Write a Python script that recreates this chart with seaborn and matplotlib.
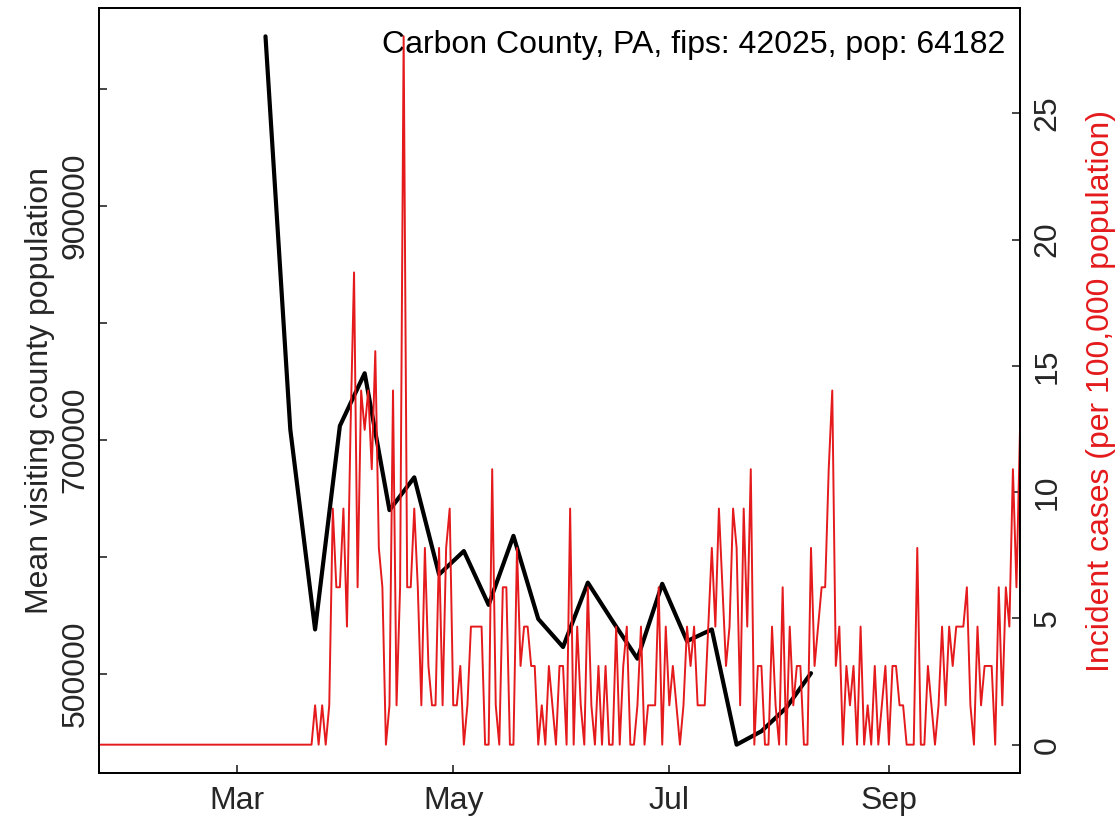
import numpy as np
import pandas as pd
import seaborn as sns
import matplotlib.pyplot as plt
import matplotlib.dates as mdates

county_label = "Carbon County, PA, fips: 42025, pop: 64182"
county_pop = 64182

# weekly mean visiting county population (black line)
visit_dates = pd.date_range("2020-03-09", periods=23, freq="7D")
visit_pop = [1045000, 709000, 538000, 712000, 757000, 640000, 668000, 585000,
             605000, 559000, 618000, 547000, 523000, 578000, 545000, 513000,
             577000, 528000, 538000, 439500, 451000, 471000, 500600]

# daily new case counts, 2020-01-22 .. 2020-10-08 (red line)
case_dates = pd.date_range("2020-01-22", "2020-10-08", freq="D")
case_counts = [0] * 61 + [
    1, 0, 1, 0, 1, 6, 4, 4, 6, 3, 8, 12, 4, 9, 8, 9, 7, 10, 5, 4,
    0, 1, 9, 1, 4, 18, 4, 4, 6, 4, 1, 5, 2, 1, 1, 5, 1, 5,
    6, 1, 1, 2, 0, 1, 3, 3, 3, 3, 0, 0, 7, 1, 0, 4, 4, 0, 0, 5,
    2, 3, 3, 2, 2, 0, 1, 0, 2, 1, 0, 2, 2, 0, 6, 0, 3, 1, 0, 4,
    1, 0, 2, 0, 2, 0, 0, 3, 0, 2, 3, 0, 0, 1, 3, 0, 1, 1, 1, 4,
    0, 3, 1, 2, 1, 0, 1, 3, 2, 3, 1, 1, 1, 3, 5, 3, 6, 4, 2,
    3, 6, 5,
    1, 6, 3, 7, 0, 2, 2, 0, 0, 3, 1, 0, 4, 0, 3, 1, 2, 2, 0, 0,
    5, 2, 3, 4, 4, 7, 9, 2, 3, 0, 2, 1, 2, 0, 3, 0, 1, 0, 2, 0,
    1, 2, 0, 2, 2, 1, 1, 0, 0, 0, 5, 0, 0, 2, 1, 0, 1, 3, 1, 3,
    2, 3, 3, 3, 4, 1, 0, 3, 1, 2, 2, 2, 0, 4, 1, 4, 3, 7, 4, 8]

cases = pd.DataFrame({"date": case_dates,
                      "incidence": np.array(case_counts) * 100000 / county_pop})
visits = pd.DataFrame({"date": visit_dates, "pop": visit_pop})

sns.set_style("white")
plt.rcParams['font.family'] = ['Liberation Sans', 'DejaVu Sans']
fs = 23

fig = plt.figure(figsize=(11.19, 8.22), dpi=100)
ax = fig.add_axes([99 / 1119, 1 - 773 / 822, 921 / 1119, 765 / 822])
ax2 = ax.twinx()

sns.lineplot(data=visits, x="date", y="pop", ax=ax, color="black", lw=3.0)
sns.lineplot(data=cases, x="date", y="incidence", ax=ax2, color="#E41A1C", lw=1.4)

ax.set_xlim(case_dates[0], case_dates[-1])
lo, hi = min(visit_pop), max(visit_pop)
pad = 0.04 * (hi - lo)
ax.set_ylim(lo - pad, hi + pad)
hi2 = cases["incidence"].max()
ax2.set_ylim(-0.04 * hi2, hi2 * 1.04)

ax.xaxis.set_major_locator(mdates.MonthLocator(bymonth=[3, 5, 7, 9]))
ax.xaxis.set_major_formatter(mdates.DateFormatter("%b"))
ax.set_yticks(range(500000, 1000001, 100000))
ax.set_yticklabels(["500000", "", "700000", "", "900000", ""], rotation=90, va="center")
ax2.set_yticks([0, 5, 10, 15, 20, 25])
ax2.set_yticklabels(["0", "5", "10", "15", "20", "25"], rotation=90, va="center")

for a in (ax, ax2):
    a.tick_params(direction="in", length=6, width=1.2, labelsize=fs, pad=9,
                  left=(a is ax), right=(a is ax2), bottom=(a is ax))
    for s in a.spines.values():
        s.set_color("black")
        s.set_linewidth(1.3)
ax.tick_params(axis="y", pad=6)

ax.set_xlabel("")
ax.set_ylabel("Mean visiting county population", fontsize=fs)
ax.yaxis.set_label_coords(-0.048, 0.5)
ax2.set_ylabel("Incident cases (per 100,000 population)", fontsize=fs, color="#E41A1C")
ax2.yaxis.set_label_coords(1.072, 0.5)

ax.text(0.984, 0.952, county_label, transform=ax.transAxes, ha="right", va="center",
        fontsize=fs, color="black")

fig.savefig("out.png", dpi=100)
